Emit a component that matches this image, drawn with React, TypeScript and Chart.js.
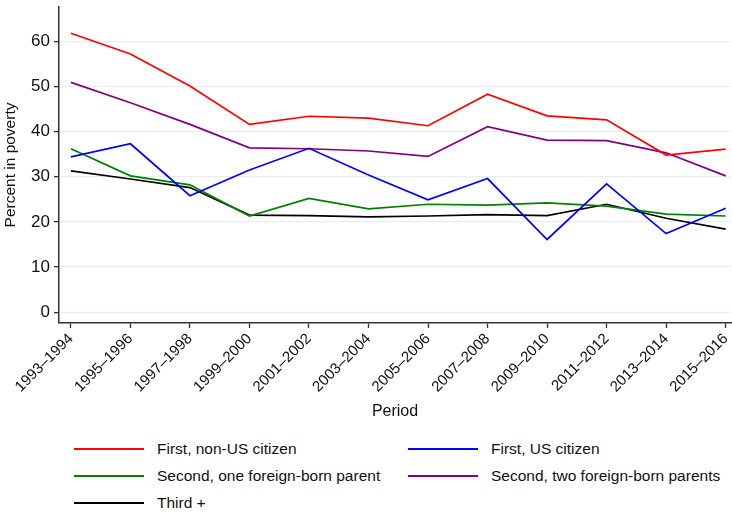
import React, { useEffect, useRef } from "react";
import { Chart, registerables } from "chart.js";

Chart.register(...registerables);

const periods = [
  "1993–1994", "1995–1996", "1997–1998", "1999–2000", "2001–2002", "2003–2004",
  "2005–2006", "2007–2008", "2009–2010", "2011–2012", "2013–2014", "2015–2016",
];

const firstNonCitizen = [61.8, 57.2, 50.1, 41.6, 43.4, 43.0, 41.3, 48.3, 43.5, 42.6, 34.8, 36.1];
const firstCitizen = [34.4, 37.3, 25.8, 31.5, 36.3, 30.4, 24.9, 29.6, 16.1, 28.4, 17.4, 23.0];
const secondOneParent = [36.2, 30.2, 28.2, 21.3, 25.2, 22.9, 23.9, 23.7, 24.2, 23.5, 21.7, 21.3];
const secondTwoParents = [50.9, 46.4, 41.6, 36.4, 36.2, 35.7, 34.5, 41.1, 38.1, 38.0, 35.3, 30.2];
const thirdPlus = [31.3, 29.5, 27.6, 21.5, 21.4, 21.1, 21.3, 21.6, 21.4, 23.9, 20.8, 18.4];

const yTicks = [0, 10, 20, 30, 40, 50, 60];

const seriesNames = [
  "First, non-US citizen",
  "First, US citizen",
  "Second, one foreign-born parent",
  "Second, two foreign-born parents",
  "Third +",
];
const seriesColors = ["#ff0000", "#0000ff", "#008000", "#800080", "#000000"];
const seriesData = [firstNonCitizen, firstCitizen, secondOneParent, secondTwoParents, thirdPlus];

const FONT = "'Liberation Sans', Arial, Helvetica, sans-serif";

export default function App() {
  const ref = useRef<HTMLCanvasElement | null>(null);

  useEffect(() => {
    document.body.style.margin = "0";
    const canvas = ref.current;
    if (!canvas) return;
    const chart = new Chart(canvas, {
      type: "line",
      data: {
        datasets: seriesData.map((vals, si) => ({
          label: seriesNames[si],
          data: vals.map((v, i) => ({ x: i, y: v })),
          borderColor: seriesColors[si],
          backgroundColor: seriesColors[si],
          borderWidth: 1.7,
          pointRadius: 0,
          tension: 0,
          fill: false,
        })),
      },
      options: {
        animation: false,
        responsive: false,
        maintainAspectRatio: false,
        layout: { padding: { top: 7, right: 1, left: 0, bottom: 0 } },
        plugins: {
          legend: { display: false },
          tooltip: { enabled: false },
        },
        scales: {
          x: {
            type: "linear",
            min: -0.2,
            max: 11.09,
            afterBuildTicks: (scale: any) => {
              scale.ticks = periods.map((_, i) => ({ value: i }));
            },
            afterFit: (scale: any) => {
              scale.height = 105;
              scale.paddingLeft = 0;
              scale.paddingRight = 0;
            },
            ticks: {
              autoSkip: false,
              minRotation: 45,
              maxRotation: 45,
              color: "#111",
              padding: 2,
              font: { family: FONT, size: 15 },
              callback: (v: any) => periods[Math.round(Number(v))] ?? "",
            },
            grid: {
              drawOnChartArea: false,
              drawTicks: true,
              tickLength: 5,
              tickColor: "#333",
              tickWidth: 1.3,
            },
            border: { display: true, color: "#333", width: 1.5 },
            title: {
              display: true,
              text: "Period",
              color: "#111",
              font: { family: FONT, size: 16 },
              padding: { top: 2, bottom: 7 },
            },
          },
          y: {
            type: "linear",
            min: -2.4,
            max: 67.6,
            afterBuildTicks: (scale: any) => {
              scale.ticks = yTicks.map((v) => ({ value: v }));
            },
            afterFit: (scale: any) => {
              scale.width = 59;
              scale.paddingTop = 0;
              scale.paddingBottom = 0;
            },
            ticks: {
              color: "#111",
              padding: 4,
              font: { family: FONT, size: 17 },
            },
            grid: {
              color: "#e6eef2",
              lineWidth: 1.3,
              drawTicks: true,
              tickLength: 5,
              tickColor: "#333",
              tickWidth: 1.3,
            },
            border: { display: true, color: "#333", width: 1.5 },
            title: {
              display: true,
              text: "Percent in poverty",
              color: "#111",
              font: { family: FONT, size: 15.5 },
              padding: { top: 1, bottom: 2 },
            },
          },
        },
      },
    });
    return () => chart.destroy();
  }, []);

  const legendPos = [
    { left: 74, top: 449 },
    { left: 408, top: 449 },
    { left: 74, top: 476 },
    { left: 408, top: 476 },
    { left: 74, top: 503 },
  ];

  return (
    <div style={{ position: "relative", width: 732, height: 513, background: "#fff", fontFamily: FONT }}>
      <canvas ref={ref} width={732} height={428} style={{ position: "absolute", left: 0, top: 0, width: 732, height: 428 }} />
      {seriesNames.map((name, i) => (
        <div
          key={name}
          style={{
            position: "absolute",
            left: legendPos[i].left,
            top: legendPos[i].top - 10,
            height: 20,
            display: "flex",
            alignItems: "center",
            whiteSpace: "nowrap",
          }}
        >
          <div style={{ width: 70, height: 2, background: seriesColors[i], marginRight: 13 }} />
          <span style={{ fontSize: 15.5, color: "#111" }}>{name}</span>
        </div>
      ))}
    </div>
  );
}
